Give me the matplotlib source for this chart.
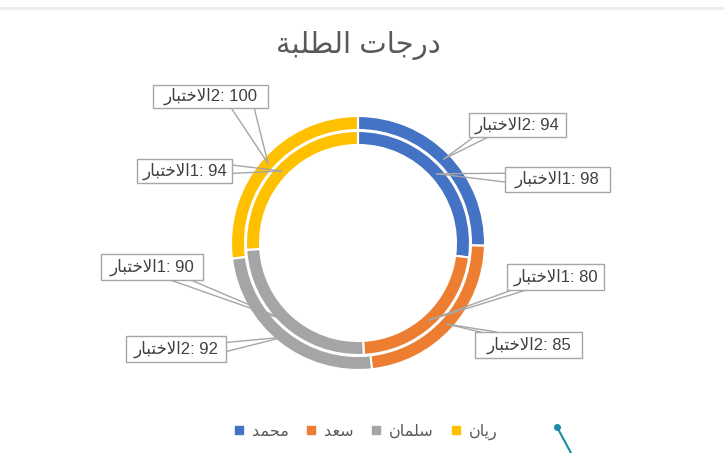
import matplotlib
matplotlib.use("Agg")
from matplotlib import pyplot as plt
from matplotlib.patches import Rectangle
from matplotlib.lines import Line2D
import numpy as np

# data
students = ["محمد", "سعد", "سلمان", "ريان"]
test1 = [98, 80, 90, 94]
test2 = [94, 85, 92, 100]
series_name = "الاختبار"
title = "درجات الطلبة"
colors = ["#4472C4", "#ED7D31", "#A5A5A5", "#FFC000"]

W, H = 724, 453

# arabic presentation forms: isolated, final, initial, medial
FORMS = {
    'ا': ('\uFE8D', '\uFE8E', None, None),
    'ب': ('\uFE8F', '\uFE90', '\uFE91', '\uFE92'),
    'ة': ('\uFE93', '\uFE94', None, None),
    'ت': ('\uFE95', '\uFE96', '\uFE97', '\uFE98'),
    'ج': ('\uFE9D', '\uFE9E', '\uFE9F', '\uFEA0'),
    'ح': ('\uFEA1', '\uFEA2', '\uFEA3', '\uFEA4'),
    'خ': ('\uFEA5', '\uFEA6', '\uFEA7', '\uFEA8'),
    'د': ('\uFEA9', '\uFEAA', None, None),
    'ر': ('\uFEAD', '\uFEAE', None, None),
    'س': ('\uFEB1', '\uFEB2', '\uFEB3', '\uFEB4'),
    'ط': ('\uFEC1', '\uFEC2', '\uFEC3', '\uFEC4'),
    'ع': ('\uFEC9', '\uFECA', '\uFECB', '\uFECC'),
    'ل': ('\uFEDD', '\uFEDE', '\uFEDF', '\uFEE0'),
    'م': ('\uFEE1', '\uFEE2', '\uFEE3', '\uFEE4'),
    'ن': ('\uFEE5', '\uFEE6', '\uFEE7', '\uFEE8'),
    'ي': ('\uFEF1', '\uFEF2', '\uFEF3', '\uFEF4'),
}


def shape(text):
    # join letters and reverse to visual order (matplotlib has no bidi)
    out = []
    i = 0
    n = len(text)
    while i < n:
        c = text[i]
        if c not in FORMS:
            out.append(c)
            i += 1
            continue
        prev = text[i - 1] if i > 0 else ''
        joins_prev = prev in FORMS and FORMS[prev][2] is not None
        if c == 'ل' and i + 1 < n and text[i + 1] == 'ا':
            out.append('\uFEFC' if joins_prev else '\uFEFB')
            i += 2
            continue
        nxt = text[i + 1] if i + 1 < n else ''
        joins_next = FORMS[c][2] is not None and nxt in FORMS
        iso, fin, ini, med = FORMS[c]
        if joins_prev and joins_next:
            f = med
        elif joins_prev:
            f = fin
        elif joins_next:
            f = ini
        else:
            f = iso
        out.append(f)
        i += 1
    return ''.join(reversed(out))


def fy(y):
    return H - y


FONT = ['Liberation Sans', 'DejaVu Sans']

fig = plt.figure(figsize=(W / 100, H / 100), dpi=100)
ax = fig.add_axes([0, 0, 1, 1])

center = (358, fy(243))
outer, _ = ax.pie(test2, radius=127, center=center, startangle=90,
                  counterclock=False, colors=colors,
                  wedgeprops=dict(width=14, edgecolor='white', linewidth=1.5))
inner, _ = ax.pie(test1, radius=112, center=center, startangle=90,
                  counterclock=False, colors=colors,
                  wedgeprops=dict(width=14, edgecolor='white', linewidth=1.5))
ax.set_xlim(0, W)
ax.set_ylim(0, H)
ax.set_aspect('equal')
ax.axis('off')

# callout boxes (image px: x0, x1, y0, y1)
boxes1 = [(505, 610, 167, 192), (507, 604, 264, 290),
          (101, 203, 254, 280), (137, 232, 159, 183)]
boxes2 = [(469, 566, 113, 137), (475, 582, 332, 358),
          (126, 226, 336, 362), (153, 268, 85, 108)]


def callout(wedge, box, text):
    mid = np.deg2rad((wedge.theta1 + wedge.theta2) / 2)
    rr = wedge.r - wedge.width / 2
    tx = wedge.center[0] + rr * np.cos(mid)
    ty = H - (wedge.center[1] + rr * np.sin(mid))
    x0, x1, y0, y1 = box
    if ty > y1 or ty < y0:
        ey = y1 if ty > y1 else y0
        L = x1 - x0
        if tx > (x0 + x1) / 2:
            b = [(x1 - 0.32 * L, ey), (x1 - 0.12 * L, ey)]
        else:
            b = [(x0 + 0.05 * L, ey), (x0 + 0.2 * L, ey)]
    else:
        ex = x1 if tx > x1 else x0
        h = y1 - y0
        b = [(ex, y0 + 0.25 * h), (ex, y0 + 0.6 * h)]
    for bx, by in b:
        ax.plot([bx, tx], [fy(by), fy(ty)], color='#A6A6A6', lw=1.0, zorder=3)
    ax.add_patch(Rectangle((x0, fy(y1)), x1 - x0, y1 - y0, fc='white',
                           ec='#A6A6A6', lw=1.0, zorder=4))
    ax.text((x0 + x1) / 2, fy((y0 + y1) / 2), text, ha='center', va='center',
            fontsize=12, color='#404040', family=FONT, zorder=5)


for w, bx, v in zip(inner, boxes1, test1):
    callout(w, bx, shape(series_name) + "1: " + str(v))
for w, bx, v in zip(outer, boxes2, test2):
    callout(w, bx, shape(series_name) + "2: " + str(v))

fig.text(358 / W, 1 - 45 / H, shape(title), ha='center', va='center',
         fontsize=21, color='#595959', family=FONT)

handles = [Line2D([], [], marker='s', linestyle='none', markersize=6,
                  markerfacecolor=c, markeredgecolor=c) for c in colors]
ax.legend(handles, [shape(s) for s in students], loc='center',
          bbox_to_anchor=(365 / W, 1 - 432 / H), ncol=4, frameon=False,
          handlelength=0.8, handletextpad=0.4, columnspacing=1.0,
          prop=dict(family=FONT, size=11.5), labelcolor='#595959')

# screenshot decorations
fig.add_artist(Line2D([0, 1], [1 - 8 / H, 1 - 8 / H], color='#EDEDED', lw=2))
fig.add_artist(Line2D([557 / W, 571 / W], [1 - 427 / H, 1 - 453 / H],
                      color='#1B8AA6', lw=1.5))
fig.add_artist(Line2D([557 / W], [1 - 427 / H], marker='o', markersize=4,
                      color='#1B8AA6'))

fig.savefig("out.png", dpi=100, facecolor='white')
